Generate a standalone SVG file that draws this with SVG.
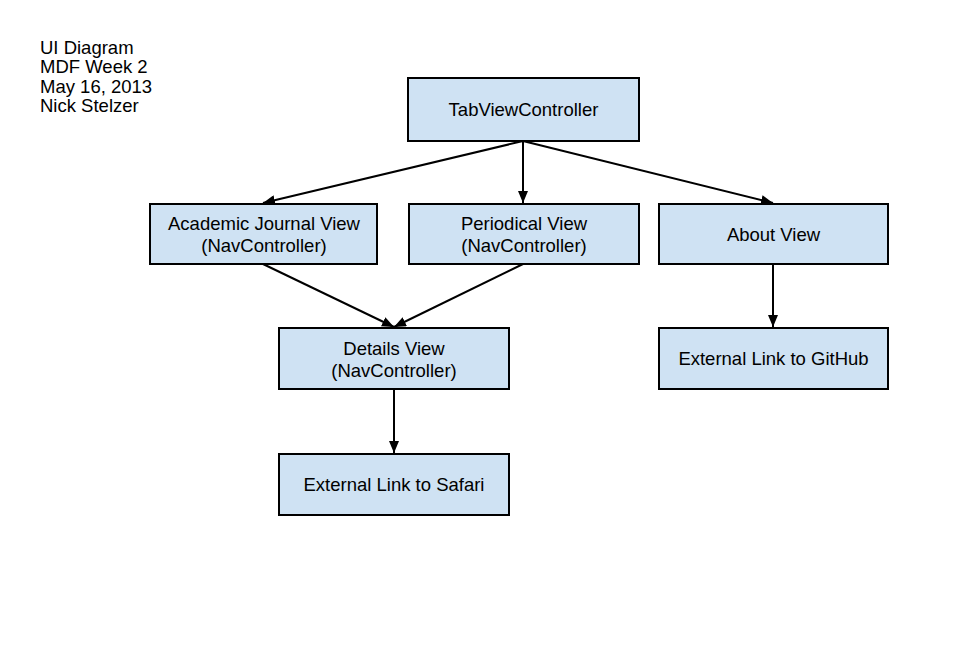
<svg xmlns="http://www.w3.org/2000/svg" width="971" height="651" viewBox="0 0 971 651">
<style>
text{font-family:"Liberation Sans",Arial,sans-serif;font-size:18.5px;fill:#000}
.b{fill:#cfe2f3;stroke:#000;stroke-width:2}
.c{text-anchor:middle}
.e{stroke:#000;stroke-width:2;fill:none;marker-end:url(#a)}
</style>
<defs>
<marker id="a" viewBox="0 0 12 10" refX="12" refY="5" markerWidth="12" markerHeight="10" orient="auto" markerUnits="userSpaceOnUse">
<path d="M0,0 L12,5 L0,10 z" fill="#000"/>
</marker>
</defs>
<rect width="971" height="651" fill="#fff"/>
<g id="title">
<text x="40" y="54">UI Diagram</text>
<text x="40" y="73">MDF Week 2</text>
<text x="40" y="92.5">May 16, 2013</text>
<text x="40" y="111.5">Nick Stelzer</text>
</g>
<g id="connectors">
<line class="e" x1="523" y1="141" x2="263" y2="203"/>
<line class="e" x1="523" y1="141" x2="523" y2="203"/>
<line class="e" x1="523" y1="141" x2="773" y2="203"/>
<line class="e" x1="263" y1="264" x2="394" y2="327"/>
<line class="e" x1="523" y1="264" x2="394" y2="327"/>
<line class="e" x1="394" y1="389" x2="394" y2="453"/>
<line class="e" x1="773" y1="264" x2="773" y2="327"/>
</g>
<g id="tab"><rect class="b" x="408" y="78" width="231" height="63"/><text class="c" x="523.5" y="116">TabViewController</text></g>
<g id="academic"><rect class="b" x="150" y="204" width="227" height="60"/><text class="c" x="264" y="229.5">Academic Journal View</text><text class="c" x="264" y="251.5">(NavController)</text></g>
<g id="periodical"><rect class="b" x="409" y="204" width="230" height="60"/><text class="c" x="524" y="229.5">Periodical View</text><text class="c" x="524" y="251.5">(NavController)</text></g>
<g id="about"><rect class="b" x="659" y="204" width="229" height="60"/><text class="c" x="773.5" y="240.5">About View</text></g>
<g id="details"><rect class="b" x="279" y="328" width="230" height="61"/><text class="c" x="394" y="354.5">Details View</text><text class="c" x="394" y="376.5">(NavController)</text></g>
<g id="github"><rect class="b" x="659" y="328" width="229" height="61"/><text class="c" x="773.5" y="364.5">External Link to GitHub</text></g>
<g id="safari"><rect class="b" x="279" y="454" width="230" height="61"/><text class="c" x="394" y="490.5">External Link to Safari</text></g>
</svg>
